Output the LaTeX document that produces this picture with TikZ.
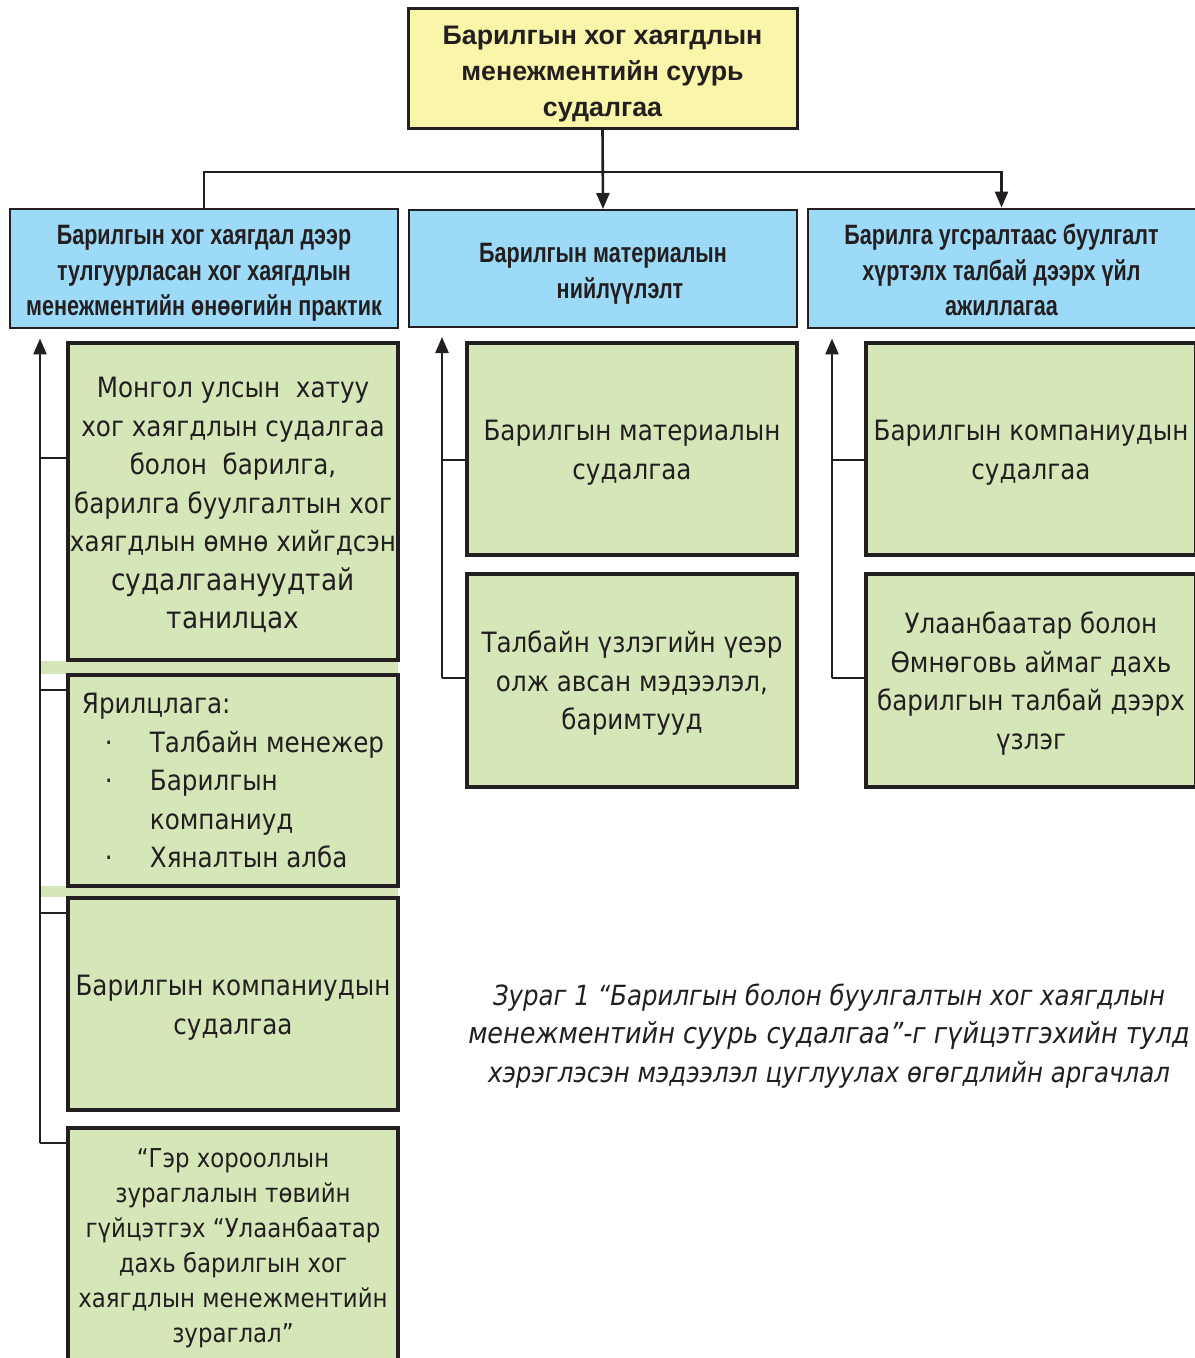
\documentclass[tikz,border=0pt]{standalone}
\usepackage{fontspec}
\newfontfamily\leaffont[FakeStretch=0.88]{DejaVu Sans}
\newfontfamily\narrowfont[FakeStretch=0.77]{Liberation Sans}
\newfontfamily\headfont{Liberation Sans}
\usetikzlibrary{positioning,arrows.meta}

\definecolor{topfill}{HTML}{FAF6A9}
\definecolor{headfill}{HTML}{9DDAF7}
\definecolor{leaffill}{HTML}{D5E7B9}
\definecolor{edge}{HTML}{231F20}

\newcommand{\lineitem}{\hspace*{11.5pt}\makebox[22.5pt][l]{·}}
\newcommand{\lift}{\rule{0pt}{13.8pt}}

\begin{document}
\begin{tikzpicture}[
    x=0.5pt, y=-0.5pt,
    topbox/.style={rectangle, draw=edge, line width=1.5pt, fill=topfill, text=edge, minimum width=194.5pt, minimum height=58.5pt, align=center, text height=50.6pt, text depth=2.8pt, font=\headfont\bfseries\fontsize{13.4}{18}\selectfont},
    headbox/.style={rectangle, draw=edge, line width=1pt, fill=headfill, text=edge, minimum width=194pt, minimum height=58.5pt, align=center, text height=50.3pt, text depth=3pt, font=\narrowfont\bfseries\fontsize{14}{17.75}\selectfont},
    leafbox/.style={rectangle, draw=edge, line width=1.6pt, fill=leaffill, text=edge, minimum width=165pt, inner sep=1pt, align=center, font=\leaffont\fontsize{14}{19.25}\selectfont},
    caption/.style={align=center, text=edge, font=\leaffont\itshape\fontsize{14.5}{19.25}\selectfont},
    link/.style={draw=edge, line width=1.3pt},
    arrow/.style={link, -{Triangle[length=8pt,width=6.5pt]}}
]
    \useasboundingbox (0,0) rectangle (1194,1358);

    % Strips between the left boxes
    \fill[leaffill] (40,661) rectangle (398,674);
    \fill[leaffill] (40,886) rectangle (398,897);

    % Nodes
    \node[topbox] (base) at (602.5,68.5) {Барилгын хог хаягдлын\\менежментийн суурь\\судалгаа};
    \node[headbox] (practice) at (204,268.5) {Барилгын хог хаягдал дээр\\тулгуурласан хог хаягдлын\\менежментийн өнөөгийн практик};
    \node[headbox, text height=32.8pt] (supply) at (603,268.5) {Барилгын материалын\\\hspace*{17pt}нийлүүлэлт};
    \node[headbox] (site) at (1001.5,268.5) {Барилга угсралтаас буулгалт\\хүртэлх талбай дээрх үйл\\ажиллагаа};

    \node[leafbox, minimum height=158.5pt] (survey) at (233,501.5) {\lift Монгол улсын\ \ хатуу\\хог хаягдлын судалгаа\\болон\ \ барилга,\\барилга буулгалтын хог\\хаягдлын өмнө хийгдсэн\\{\fontsize{15}{19.25}\selectfont судалгаануудтай}\\{\fontsize{15}{19.25}\selectfont танилцах}};
    \node[leafbox, minimum height=105.5pt, align=left, below=5.9pt of survey] (interview) {Ярилцлага:\\\lineitem Талбайн менежер\\\lineitem Барилгын\\\hspace*{34pt}компаниуд\\\lineitem Хяналтын алба};
    \node[leafbox, minimum height=106pt, below=4.4pt of interview] (company) {\lift Барилгын компаниудын\\судалгаа};
    \node[leafbox, minimum height=120pt, below=7.4pt of company, font=\leaffont\fontsize{13}{17.5}\selectfont] (plan) {“Гэр хорооллын\\зураглалын төвийн\\гүйцэтгэх “Улаанбаатар\\дахь барилгын хог\\хаягдлын менежментийн\\зураглал”};

    \node[leafbox, minimum height=106pt] (material) at (632,449) {\lift Барилгын материалын\\судалгаа};
    \node[leafbox, minimum height=106.5pt, below=7.9pt of material] (records) {\lift Талбайн үзлэгийн үеэр\\олж авсан мэдээлэл,\\баримтууд};

    \node[leafbox, minimum height=106pt] (firms) at (1031,449) {\lift Барилгын компаниудын\\судалгаа};
    \node[leafbox, minimum height=106.5pt, below=7.9pt of firms] (visit) {\lift Улаанбаатар болон\\Өмнөговь аймаг дахь\\барилгын талбай дээрх\\үзлэг};

    \node[caption] (note) at (829,1036) {{\fontsize{13.9}{19.25}\selectfont Зураг 1 “Барилгын болон буулгалтын хог хаягдлын}\\менежментийн суурь судалгаа”-г гүйцэтгэхийн тулд\\{\fontsize{13.9}{19.25}\selectfont хэрэглэсэн мэдээлэл цуглуулах өгөгдлийн аргачлал}};

    % Arrows from the top
    \coordinate (fork) at (603,172);
    \draw[arrow] (base.south) -- (supply.north);
    \draw[link] (fork) -| (practice.north);
    \draw[arrow] (fork) -| (site.north);

    % Left column
    \coordinate (lfoot) at (40,1143);
    \draw[arrow, shorten >=4.5pt] (lfoot) -- (lfoot |- practice.south);
    \draw[link] (lfoot) -- (lfoot -| plan.west);
    \foreach \n/\y in {survey/458, interview/690, company/913}
        \draw[link] (40,\y) -- (\n.west |- 40,\y);

    % Middle column
    \coordinate (mfoot) at (442,678);
    \draw[arrow, shorten >=4.5pt] (mfoot) -- (mfoot |- supply.south);
    \foreach \n/\y in {material/460, records/678}
        \draw[link] (442,\y) -- (\n.west |- 442,\y);

    % Right column
    \coordinate (rfoot) at (832,678);
    \draw[arrow, shorten >=4.5pt] (rfoot) -- (rfoot |- site.south);
    \foreach \n/\y in {firms/460, visit/678}
        \draw[link] (832,\y) -- (\n.west |- 832,\y);
\end{tikzpicture}
\end{document}
